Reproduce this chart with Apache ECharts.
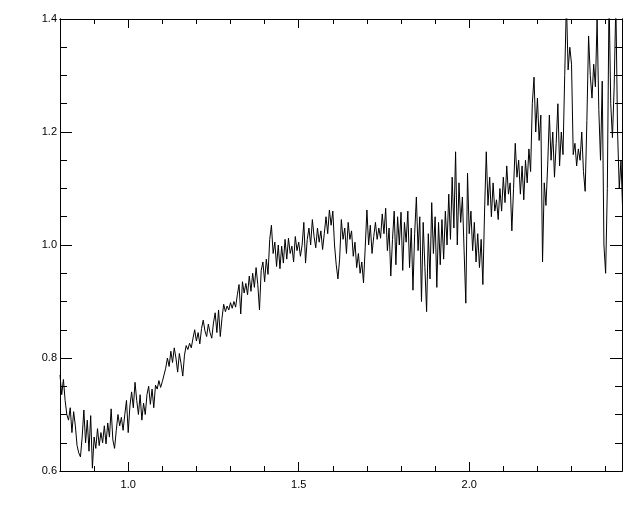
<!DOCTYPE html>
<html>
<head>
<meta charset="utf-8">
<script src="https://cdn.jsdelivr.net/npm/echarts@6/dist/echarts.min.js"></script>
<style>
html,body{margin:0;padding:0;background:#fff;}
#c{width:640px;height:512px;}
</style>
</head>
<body>
<div id="c"></div>
<script>
// Spectrum sampled on a uniform wavelength grid
const xStart = 0.8;
const xStep = 0.005;
const flux = [
0.770,0.735,0.762,0.725,0.700,0.690,0.712,0.668,0.705,0.680,
0.645,0.632,0.625,0.660,0.708,0.650,0.690,0.635,0.698,0.605,
0.660,0.640,0.675,0.645,0.668,0.650,0.680,0.648,0.685,0.660,
0.710,0.655,0.640,0.672,0.700,0.680,0.695,0.672,0.700,0.725,
0.668,0.715,0.740,0.712,0.757,0.725,0.700,0.735,0.690,0.720,
0.700,0.735,0.750,0.718,0.745,0.712,
0.752,0.745,0.760,0.748,0.758,0.770,0.782,0.800,0.785,0.812,
0.792,0.818,0.800,0.775,0.808,0.790,0.768,0.805,0.822,0.815,
0.826,0.818,0.835,0.850,0.830,0.845,0.825,0.852,0.867,0.848,
0.838,0.860,0.845,0.835,0.862,0.880,0.845,0.885,0.838,0.870,
0.895,0.882,0.892,0.885,0.898,0.888,0.900,0.890,0.912,0.930,
0.878,0.935,0.915,0.932,0.912,
0.945,0.918,0.950,0.925,0.960,0.930,0.885,0.955,0.970,0.935,
0.975,0.948,1.010,1.035,0.985,1.005,0.962,1.000,0.958,0.998,
0.968,1.010,0.975,1.012,0.985,0.998,0.970,1.015,0.990,1.005,
0.980,1.000,1.040,0.968,1.010,1.030,1.000,1.045,1.015,0.995,
1.030,1.005,1.025,0.992,1.020,1.050,1.020,1.062,1.035,1.060,
1.000,0.965,0.940,0.975,1.045,1.010,
1.030,0.985,1.040,1.010,1.025,0.980,1.005,0.960,0.985,0.950,
0.970,0.933,0.995,1.062,1.000,1.035,0.985,1.015,1.040,1.010,
1.030,1.012,1.055,1.020,1.065,0.990,1.030,0.945,1.010,1.060,
0.965,1.050,1.000,1.058,0.955,1.040,1.005,1.060,0.960,1.030,
0.920,1.020,1.085,0.990,1.050,0.900,1.040,0.960,0.882,1.020,
0.940,1.075,0.985,1.050,0.925,1.040,
0.965,1.045,0.975,1.060,1.000,1.090,1.010,1.120,1.030,1.165,
1.000,1.110,1.040,1.085,0.990,0.897,1.127,1.020,1.060,0.990,
1.040,0.970,1.020,0.960,1.010,0.930,1.060,1.165,1.070,1.120,
1.050,1.110,1.060,1.080,1.045,1.100,1.060,1.120,1.075,1.140,
1.090,1.110,1.025,1.100,1.180,1.120,1.150,1.090,1.140,1.080,
1.150,1.110,1.170,1.130,
1.250,1.297,1.200,1.260,1.185,1.230,0.970,1.110,1.070,1.140,
1.230,1.150,1.200,1.120,1.180,1.250,1.140,1.200,1.160,1.300,
1.430,1.310,1.350,1.320,1.160,1.180,1.140,1.170,1.150,1.200,
1.130,1.095,1.220,1.370,1.300,1.260,1.320,1.280,1.400,1.240,
1.150,1.290,1.000,0.950,1.100,1.440,1.250,1.190,1.280,1.430,
1.200,1.100,1.150,1.060
];
const xMajor = [1.0, 1.5, 2.0];
const xMinor = [0.9, 1.1, 1.2, 1.3, 1.4, 1.6, 1.7, 1.8, 1.9, 2.1, 2.2, 2.3, 2.4];
const yMajor = [0.6, 0.8, 1.0, 1.2, 1.4];
const yMinor = [0.65, 0.7, 0.75, 0.85, 0.9, 0.95, 1.05, 1.1, 1.15, 1.25, 1.3, 1.35];

const X_MIN = 0.8, X_MAX = 2.448, Y_MIN = 0.6, Y_MAX = 1.4;
const data = flux.map((v, i) => [xStart + i * xStep, v]);

const font = {fontFamily: 'Liberation Sans, Arial, sans-serif', fontSize: 11, color: '#000'};
const lineStyle = {color: '#000', width: 1};

function xAx(pos, ticks, len, labels) {
  return {
    type: 'value', position: pos, min: X_MIN, max: X_MAX,
    axisLine: {show: true, onZero: false, lineStyle: lineStyle},
    axisTick: {show: true, inside: true, length: len, customValues: ticks, lineStyle: lineStyle},
    axisLabel: labels ? Object.assign({show: true, margin: 8, customValues: ticks,
      formatter: v => v.toFixed(1)}, font) : {show: false},
    splitLine: {show: false}
  };
}
function yAx(pos, ticks, len, labels) {
  return {
    type: 'value', position: pos, min: Y_MIN, max: Y_MAX,
    axisLine: {show: true, onZero: false, lineStyle: lineStyle},
    axisTick: {show: true, inside: true, length: len, customValues: ticks, lineStyle: lineStyle},
    axisLabel: labels ? Object.assign({show: true, margin: 3, customValues: ticks,
      formatter: v => v.toFixed(1)}, font) : {show: false},
    splitLine: {show: false}
  };
}

const chart = echarts.init(document.getElementById('c'), null, {renderer: 'canvas'});
chart.setOption({
  animation: false,
  backgroundColor: '#fff',
  grid: {left: 60, right: 18, top: 19, bottom: 41, containLabel: false},
  xAxis: [
    xAx('bottom', xMajor, 9, true),
    xAx('bottom', xMinor, 5, false),
    xAx('top', xMajor, 9, false),
    xAx('top', xMinor, 5, false)
  ],
  yAxis: [
    yAx('left', yMajor, 12, true),
    yAx('left', yMinor, 7, false),
    yAx('right', yMajor, 12, false),
    yAx('right', yMinor, 7, false)
  ],
  series: [{
    type: 'line',
    xAxisIndex: 0, yAxisIndex: 0,
    data: data,
    showSymbol: false,
    symbol: 'none',
    clip: true,
    lineStyle: {color: '#000', width: 1},
    z: 1
  }]
});
</script>
</body>
</html>
